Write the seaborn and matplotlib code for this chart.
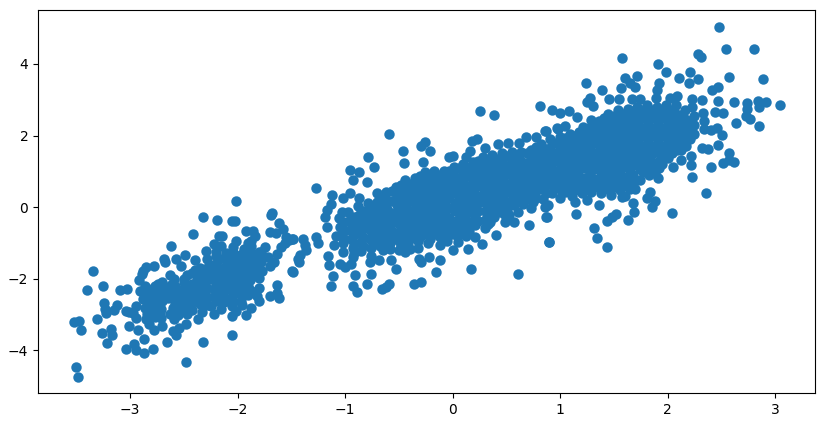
import matplotlib
matplotlib.use("Agg")
import matplotlib.pyplot as plt
import pandas as pd
import seaborn as sns

left_edge = [(-3.50,-4.46),(-3.48,-4.74),(-3.52,-3.21),(-3.47,-3.19),(-3.46,-3.44),(-3.31,-3.12),(-3.26,-3.53),(-3.18,-3.42),(-3.17,-3.57),(-3.21,-3.79),
(-3.24,-2.67),(-3.23,-2.84),(-3.22,-2.97),(-3.15,-2.88),(-3.12,-2.74),(-3.04,-2.91),(-3.01,-2.93),(-3.01,-3.34),(-2.96,-3.84),(-3.04,-3.96),(-2.94,-4.01),(-2.87,-4.07),(-2.79,-3.96),(-2.87,-3.68),(-2.93,-3.44),(-2.66,-3.76),(-2.48,-4.32),(-2.32,-3.76),(-2.05,-3.57),
(-3.34,-1.80),(-3.40,-2.31),(-3.25,-2.20),(-3.09,-2.31),(-3.03,-2.28),
(-2.78,-1.66),(-2.85,-1.69),(-2.88,-1.79),(-2.89,-1.88),(-2.92,-2.05),(-2.68,-1.44),(-2.67,-1.55),(-2.62,-1.08),(-2.57,-1.44),(-2.49,-1.33),(-2.40,-1.49),(-2.53,-1.66),(-2.63,-1.91),(-2.59,-2.02),(-2.70,-2.09),
(-2.41,-0.74),(-2.32,-0.29),(-2.19,-0.35),(-2.05,-0.38),(-2.02,-0.38),(-2.017,0.18),(-2.14,-0.80),(-2.17,-0.81),(-1.92,-0.67),(-1.86,-0.67),(-1.70,-0.69),(-1.69,-0.23),(-1.68,-0.18),(-1.61,-0.46),(-1.58,-0.62),(-1.64,-0.73),(-1.49,-0.88),(-1.55,-0.85),
(-2.29,-1.23),(-2.22,-1.04),(-2.15,-1.09),(-2.01,-0.96),(-2.04,-1.13),(-1.87,-0.95),(-1.90,-1.00),(-1.84,-0.81),(-1.74,-1.13),(-1.78,-1.27),(-1.60,-1.13),(-1.63,-1.32),(-1.66,-1.55),(-1.70,-1.65),(-1.77,-1.79),(-1.49,-1.80),(-1.44,-1.46),(-1.56,-1.00),(-1.52,-0.93),
(-1.80,-2.25),(-1.63,-2.19),(-1.70,-2.48),(-1.61,-2.53),(-1.63,-2.39),(-1.80,-2.62),(-1.87,-2.81),(-1.92,-3.03),(-2.01,-2.90),(-2.05,-3.06),(-2.22,-2.98),(-2.15,-2.86),(-2.25,-2.76),(-2.37,-3.12),(-2.33,-2.93),(-2.48,-3.28),(-2.57,-3.59),(-2.60,-3.46),(-2.54,-3.37),(-2.59,-3.14),(-2.70,-3.32),(-2.78,-3.44),(-2.82,-3.28),(-2.85,-3.14),(-2.94,-3.09),(-2.97,-2.95),(-2.94,-2.76),(-2.88,-2.58),(-2.91,-2.34)]

left_core = [(-2.86,-2.2),(-2.80,-2.33),(-2.74,-2.16),(-2.68,-2.30),(-2.62,-2.18),(-2.56,-2.32),(-2.50,-2.10),(-2.86,-2.45),(-2.80,-2.62),(-2.74,-2.48),(-2.70,-2.62),(-2.62,-2.52),(-2.55,-2.58),(-2.86,-2.82),(-2.79,-2.85),(-2.74,-2.78),(-2.84,-3.00),(-2.77,-3.08),(-2.72,-2.95),(-2.60,-2.82),(-2.52,-2.82),(-2.63,-2.98),(-2.55,-3.02),(-2.47,-3.00),(-2.44,-2.76),
(-2.47,-1.90),(-2.45,-2.28),(-2.46,-2.55),(-2.40,-1.75),(-2.38,-2.05),(-2.37,-2.30),(-2.37,-2.56),(-2.33,-1.90),(-2.30,-2.12),(-2.30,-2.40),(-2.30,-2.62),(-2.26,-1.62),(-2.26,-1.80),(-2.24,-2.02),(-2.22,-2.28),(-2.22,-2.52),(-2.20,-1.25),(-2.18,-1.48),(-2.17,-1.72),(-2.15,-1.95),(-2.15,-2.18),(-2.15,-2.42),(-2.13,-2.66),(-2.11,-1.28),(-2.10,-1.55),(-2.08,-1.80),(-2.07,-2.05),(-2.07,-2.30),(-2.06,-2.55),(-2.05,-2.76),(-2.02,-1.35),(-2.00,-1.58),(-2.00,-1.85),(-1.99,-2.10),(-1.98,-2.36),(-1.97,-2.62),(-1.94,-1.18),(-1.93,-1.45),(-1.92,-1.70),(-1.90,-1.95),(-1.90,-2.20),(-1.90,-2.46),(-1.87,-1.10),(-1.85,-1.38),(-1.84,-1.62),(-1.82,-1.88),(-1.84,-2.38),(-1.82,-2.50),(-1.78,-1.55),(-1.72,-1.40)]

left_fill = [(-2.83,[-2.3,-2.58,-2.72,-2.95,-3.1]),(-2.77,[-2.22,-2.45,-2.72,-2.95]),(-2.71,[-2.2,-2.4,-2.85,-3.1]),(-2.65,[-2.4,-2.55]),(-2.58,[-2.2,-2.42,-2.68]),
(-2.50,[-2.0,-2.25,-2.45,-2.68,-2.9]),(-2.42,[-1.85,-2.15,-2.42,-2.65,-2.88]),(-2.35,[-1.7,-1.98,-2.2,-2.45,-2.72]),(-2.28,[-1.45,-1.7,-2.0,-2.25,-2.52,-2.75]),(-2.20,[-1.38,-1.6,-1.85,-2.12,-2.4,-2.62]),(-2.12,[-1.4,-1.68,-1.88,-2.1,-2.3,-2.55]),(-2.04,[-1.25,-1.45,-1.7,-1.95,-2.2,-2.45,-2.65]),(-1.96,[-1.3,-1.5,-1.75,-2.0,-2.25,-2.5,-2.75]),(-1.88,[-1.25,-1.52,-1.78,-2.05,-2.32]),(-1.80,[-1.25,-1.45,-1.72,-1.98])]

mid_edge = [(-0.59,2.03),(-0.79,1.39),(-0.73,1.11),(-0.95,1.03),(-0.87,0.99),(-0.93,0.75),(-0.80,0.71),(-1.27,0.52),(-1.12,0.35),(-0.95,0.38),(-1.02,0.24),(-0.87,0.24),(-1.13,0.08),(-1.17,-0.08),(-1.19,-0.29),(-1.17,-0.57),(-1.03,-0.13),
(-0.46,1.56),(-0.45,1.22),(-0.26,1.81),(-0.29,1.72),(-0.21,1.56),(-0.27,1.25),(0.26,2.69),(0.39,2.58),(0.18,1.85),(0.23,1.89),(0.16,1.58),(0.13,1.41),(-0.03,1.39),(0.0,1.43),(0.30,1.66),(0.42,1.75),(0.52,1.78),(0.62,1.78),(0.68,1.95),(0.78,1.95),(0.87,2.13),(0.97,2.2),
(-1.48,-0.9),(-1.39,-0.88),(-1.37,-1.06),(-1.36,-1.2),(-1.42,-1.34),(-1.43,-1.53),(-1.48,-1.83),(-1.27,-0.83),(-1.25,-1.0),(-1.16,-1.36),(-1.15,-1.63),(-1.11,-1.93),(-1.13,-2.22),(-0.93,-2.22),(-0.89,-2.37),(-0.91,-1.90),(-0.80,-2.14),(-0.76,-1.86),(-0.66,-2.29),(-0.59,-2.15),(-0.62,-2.23),(-0.36,-2.14),(-0.29,-2.11),(-0.53,-1.72),(-0.57,-1.48),(-0.15,-1.83),(-0.12,-1.49),(0.17,-1.72),(0.61,-1.88),(0.90,-0.99),(0.71,-0.51),(0.40,-0.77),(0.27,-1.04),(0.14,-1.18),(0.0,-1.21),
(-0.29,-1.53),(-0.22,-1.39),(-0.31,-1.44),(-1.05,-1.58),(-1.0,-1.67),(-0.94,-1.58),(-0.77,-1.53),(-0.68,-1.48),(-0.58,-1.16),(-0.44,-1.25),(-0.4,-1.16),(-0.12,-1.06),(0.05,-0.97),(0.21,-0.83),(0.35,-0.41),(0.49,-0.41),(0.57,-0.43),(0.53,-0.22),(0.61,-0.13),(0.73,-0.04),(0.88,-0.27),(0.86,0.01),(-1.10,-1.05),(-1.08,-0.80)]

mid_core = [(-1.06,-0.30),(-1.05,-0.55),(-1.04,-0.78),(-1.02,-1.00),(-1.02,-1.25),(-0.97,-0.15),(-0.96,-0.40),(-0.95,-0.65),(-0.94,-0.90),(-0.93,-1.15),(-0.93,-1.40),(-0.88,0.02),(-0.87,-0.22),(-0.87,-0.48),(-0.86,-0.72),(-0.85,-0.98),(-0.85,-1.22),(-0.79,0.10),(-0.79,-0.15),(-0.78,-0.40),(-0.77,-0.65),(-0.77,-0.90),(-0.76,-1.15),(-0.76,-1.38),(-0.70,0.38),(-0.70,0.15),(-0.70,-0.10),(-0.69,-0.35),(-0.68,-0.60),(-0.68,-0.85),(-0.67,-1.10),(-0.62,0.42),(-0.61,0.20),(-0.61,-0.05),(-0.60,-0.30),(-0.60,-0.55),(-0.59,-0.80),(-0.58,-1.00),(-0.53,0.55),(-0.52,0.30),(-0.52,0.05),(-0.52,-0.20),(-0.51,-0.45),(-0.51,-0.72),(-0.50,-0.95),(-0.50,-1.20),(-0.44,0.75),(-0.44,0.50),(-0.43,0.25),(-0.43,0.00),(-0.43,-0.25),(-0.42,-0.50),(-0.42,-0.75),(-0.41,-1.00),(-0.35,0.80),(-0.35,0.55),(-0.35,0.30),(-0.34,0.05),(-0.34,-0.20),(-0.33,-0.45),(-0.33,-0.70),(-0.32,-0.95),(-0.32,-1.15),(-0.26,0.98),(-0.26,0.75),(-0.26,0.50),(-0.25,0.25),(-0.25,0.00),(-0.24,-0.25),(-0.24,-0.50),(-0.24,-0.75),(-0.23,-1.00),
(-0.17,1.00),(-0.17,0.75),(-0.17,0.50),(-0.16,0.25),(-0.16,0.00),(-0.15,-0.25),(-0.15,-0.50),(-0.15,-0.75),(-0.08,1.02),(-0.08,0.80),(-0.08,0.55),(-0.07,0.30),(-0.07,0.05),(-0.07,-0.20),(-0.06,-0.45),(-0.06,-0.70),(-0.05,-0.95),(0.01,1.12),(0.01,0.88),(0.01,0.62),(0.02,0.38),(0.02,0.12),(0.02,-0.12),(0.03,-0.38),(0.03,-0.62),(0.04,-0.80),(0.10,1.20),(0.10,0.95),(0.10,0.70),(0.11,0.45),(0.11,0.20),(0.11,-0.05),(0.12,-0.30),(0.12,-0.55),(0.13,-0.80),(0.19,1.25),(0.19,1.00),(0.19,0.75),(0.20,0.50),(0.20,0.25),(0.20,0.00),(0.21,-0.25),(0.21,-0.50),(0.28,1.40),(0.28,1.15),(0.28,0.90),(0.29,0.65),(0.29,0.40),(0.29,0.15),(0.30,-0.10),(0.30,-0.35),(0.30,-0.60),(0.37,1.45),(0.37,1.20),(0.38,0.95),(0.38,0.70),(0.38,0.45),(0.38,0.20),(0.39,-0.05),(0.39,-0.28),(0.46,1.50),(0.46,1.25),(0.47,1.00),(0.47,0.75),(0.47,0.50),(0.47,0.25),(0.48,0.00),(0.48,-0.20),(0.55,1.55),(0.55,1.30),(0.56,1.05),(0.56,0.80),(0.56,0.55),(0.56,0.30),(0.57,0.05),(0.64,1.55),(0.64,1.30),(0.65,1.05),(0.65,0.80),(0.65,0.55),(0.65,0.30),(0.66,0.08),(0.73,1.60),(0.73,1.35),(0.74,1.10),(0.74,0.85),(0.74,0.60),(0.74,0.35),(0.75,0.15),(0.82,1.75),(0.82,1.50),(0.83,1.25),(0.83,1.00),(0.83,0.75),(0.83,0.50),(0.84,0.22)]

mid_fill = [(-1.01,[-0.42,-0.66,-0.9]),(-0.92,[-0.28,-0.52,-0.78,-1.02,-1.28]),(-0.83,[-0.1,-0.34,-0.6,-0.85,-1.1]),(-0.74,[0.02,-0.27,-0.52,-0.78,-1.02]),(-0.65,[0.28,0.03,-0.22,-0.47,-0.72,-0.97,-1.2]),(-0.56,[0.45,0.18,-0.17,-0.42,-0.67,-0.9]),(-0.48,[0.62,0.4,0.17,-0.08,-0.33,-0.6,-0.85,-1.08]),(-0.39,[0.65,0.42,0.18,-0.1,-0.37,-0.62,-0.87]),(-0.30,[0.88,0.65,0.4,0.15,-0.08,-0.33,-0.58,-0.83]),(-0.21,[0.88,0.62,0.38,0.12,-0.12,-0.38,-0.62,-0.88]),(-0.12,[0.9,0.65,0.4,0.15,-0.1,-0.35,-0.6,-0.85]),(-0.03,[1.0,0.75,0.5,0.25,-0.02,-0.3,-0.55,-0.78]),(0.06,[1.08,0.82,0.57,0.32,0.08,-0.18,-0.42,-0.68]),(0.15,[1.12,0.88,0.6,0.35,0.1,-0.15,-0.42,-0.68]),(0.24,[1.3,1.05,0.82,0.58,0.32,0.1,-0.12,-0.38]),(0.33,[1.3,1.05,0.8,0.55,0.3,0.05,-0.22,-0.48]),(0.42,[1.35,1.1,0.85,0.6,0.35,0.1,-0.15]),(0.51,[1.42,1.15,0.92,0.65,0.42,0.15,-0.08]),(0.60,[1.42,1.18,0.92,0.68,0.42,0.18]),(0.69,[1.5,1.22,0.98,0.72,0.48,0.22]),(0.78,[1.68,1.45,1.2,0.95,0.7,0.45,0.25]),(0.87,[1.62,1.38,1.12,0.88,0.62,0.38])]

right_edge = [(2.48,5.03),(2.54,4.41),(2.80,4.41),(2.28,4.28),(2.31,4.19),(1.58,4.16),(1.91,3.99),(1.99,3.79),(2.21,3.79),(2.11,3.60),(2.28,3.57),(2.20,3.46),(2.57,3.65),(2.89,3.57),(1.24,3.46),(1.60,3.60),(1.72,3.67),(1.65,3.46),(1.70,3.35),(1.57,3.32),(1.39,3.26),(1.92,3.47),(1.90,3.27),(2.47,3.35),(2.41,3.26),(2.47,2.96),(2.62,2.93),(2.74,2.92),(2.84,2.96),(2.92,2.93),(3.05,2.84),(2.85,2.81),(2.74,2.73),(2.73,2.54),(2.77,2.45),(2.85,2.27),(2.64,2.34),(2.52,2.62),(2.44,2.67),(2.33,2.62),(2.32,2.99),(2.23,3.01),(2.23,2.81),(2.09,3.10),(2.02,3.04),(1.89,3.04),(1.74,3.01),(1.67,3.01),(1.55,3.01),(1.46,3.01),(1.28,3.04),(1.25,2.93),(1.31,2.83),(0.81,2.83),(0.93,2.71),(1.0,2.62),(1.08,2.68),(1.16,2.51),(1.29,2.43),(1.21,2.23),(1.05,2.27),(0.98,2.18),(0.86,2.13),
(2.51,2.01),(2.46,2.2),(2.40,2.15),(2.47,1.73),(2.38,1.61),(2.32,1.64),(2.57,1.52),(2.62,1.27),(2.52,1.22),(2.57,1.31),(2.40,1.11),(2.22,1.17),(2.23,0.83),(2.36,0.38),(2.04,-0.17),(2.22,1.44),(2.13,1.31),(2.05,1.13),(1.91,0.80),(1.88,0.94),(1.88,0.18),(1.86,0.01),(1.84,0.43),(1.81,0.24),(1.69,-0.15),(1.68,0.12),(1.63,-0.35),(1.52,-0.2),(1.48,-0.29),(1.44,-0.4),(1.32,-0.6),(1.34,-0.86),(1.44,-1.13),(0.90,-0.99),(1.15,-0.2),(0.87,-0.29),(1.36,0.07),(1.25,0.2),(1.14,0.15),(1.0,0.24),(0.89,0.06),(1.60,0.31),(1.70,0.5),(1.74,0.75),(1.56,0.47)]

right_core = [(0.91,1.90),(0.91,1.65),(0.92,1.40),(0.92,1.15),(0.92,0.90),(0.92,0.65),(0.93,0.40),(1.00,1.95),(1.00,1.70),(1.01,1.45),(1.01,1.20),(1.01,0.95),(1.01,0.70),(1.02,0.45),(1.09,2.05),(1.09,1.80),(1.10,1.55),(1.10,1.30),(1.10,1.05),(1.10,0.80),(1.11,0.55),(1.11,0.30),(1.18,2.10),(1.18,1.85),(1.19,1.60),(1.19,1.35),(1.19,1.10),(1.19,0.85),(1.20,0.60),(1.20,0.38),(1.27,2.20),(1.27,1.95),(1.28,1.70),(1.28,1.45),(1.28,1.20),(1.28,0.95),(1.29,0.70),(1.29,0.42),(1.36,2.40),(1.36,2.15),(1.37,1.90),(1.37,1.65),(1.37,1.40),(1.37,1.15),(1.38,0.90),(1.38,0.65),(1.38,0.40),(1.45,2.60),(1.45,2.35),(1.46,2.10),(1.46,1.85),(1.46,1.60),(1.46,1.35),(1.47,1.10),(1.47,0.85),(1.47,0.60),(1.47,0.35),(1.54,2.70),(1.54,2.45),(1.55,2.20),(1.55,1.95),(1.55,1.70),(1.55,1.45),(1.56,1.20),(1.56,0.95),(1.56,0.70),(1.63,2.75),(1.63,2.50),(1.64,2.25),(1.64,2.00),(1.64,1.75),(1.64,1.50),(1.65,1.25),(1.65,1.00),(1.65,0.75),(1.65,0.50),(1.72,2.80),(1.72,2.55),(1.73,2.30),(1.73,2.05),(1.73,1.80),(1.73,1.55),(1.74,1.30),(1.74,1.05),(1.81,2.85),(1.81,2.60),(1.82,2.35),(1.82,2.10),(1.82,1.85),(1.82,1.60),(1.83,1.35),(1.83,1.10),(1.83,0.90),(1.90,2.80),(1.90,2.55),(1.91,2.30),(1.91,2.05),(1.91,1.80),(1.91,1.55),(1.92,1.30),(1.92,1.08),(1.99,2.85),(1.99,2.60),(2.00,2.35),(2.00,2.10),(2.00,1.85),(2.00,1.60),(2.00,1.38),(2.08,2.85),(2.08,2.60),(2.08,2.35),(2.09,2.10),(2.09,1.85),(2.09,1.60),(2.16,2.70),(2.16,2.45),(2.16,2.20),(2.17,1.95),(2.17,1.70),(2.25,2.55),(2.25,2.30),(2.25,2.05),(2.34,2.40),(2.34,2.18),(1.58,0.28)]

right_fill = [(0.96,[1.78,1.52,1.28,1.02,0.78,0.52]),(1.05,[1.92,1.68,1.42,1.18,0.92,0.68,0.42]),(1.14,[1.98,1.72,1.48,1.22,0.98,0.72,0.48]),(1.23,[2.05,1.82,1.58,1.32,1.08,0.82,0.55]),(1.32,[2.3,2.05,1.78,1.52,1.28,1.05,0.78,0.55]),(1.41,[2.48,2.22,1.98,1.72,1.48,1.22,0.98,0.72,0.5]),(1.50,[2.55,2.3,2.05,1.8,1.55,1.3,1.05,0.8,0.55]),(1.59,[2.6,2.38,2.12,1.88,1.62,1.38,1.12,0.85,0.6]),(1.68,[2.68,2.42,2.18,1.92,1.68,1.42,1.18,0.9,0.65]),(1.77,[2.72,2.48,2.22,1.98,1.72,1.48,1.22,0.98]),(1.86,[2.72,2.48,2.22,1.98,1.72,1.48,1.22,1.02]),(1.95,[2.72,2.48,2.22,1.98,1.72,1.48,1.2]),(2.04,[2.72,2.48,2.22,1.98,1.72,1.5]),(2.13,[2.58,2.32,2.08,1.82,1.6]),(2.21,[2.42,2.18,1.9])]

points = left_edge + left_core + mid_edge + mid_core + right_edge + right_core
for column_x, column_ys in left_fill + mid_fill + right_fill:
    points += [(column_x, value) for value in column_ys]
data = pd.DataFrame(points, columns=["x", "y"])

fig = plt.figure(figsize=(8.25, 4.28), dpi=100)
ax = fig.add_axes([38/825, 35/428, 777/825, 383/428])
sns.scatterplot(data=data, x="x", y="y", s=36, color="#1f77b4", edgecolor="#1f77b4", linewidth=1.5, ax=ax)
ax.set_xlim(-3.856, 3.372)
ax.set_ylim(-5.20, 5.51)
ax.set_xlabel("")
ax.set_ylabel("")
fig.savefig("out.png", dpi=100)
